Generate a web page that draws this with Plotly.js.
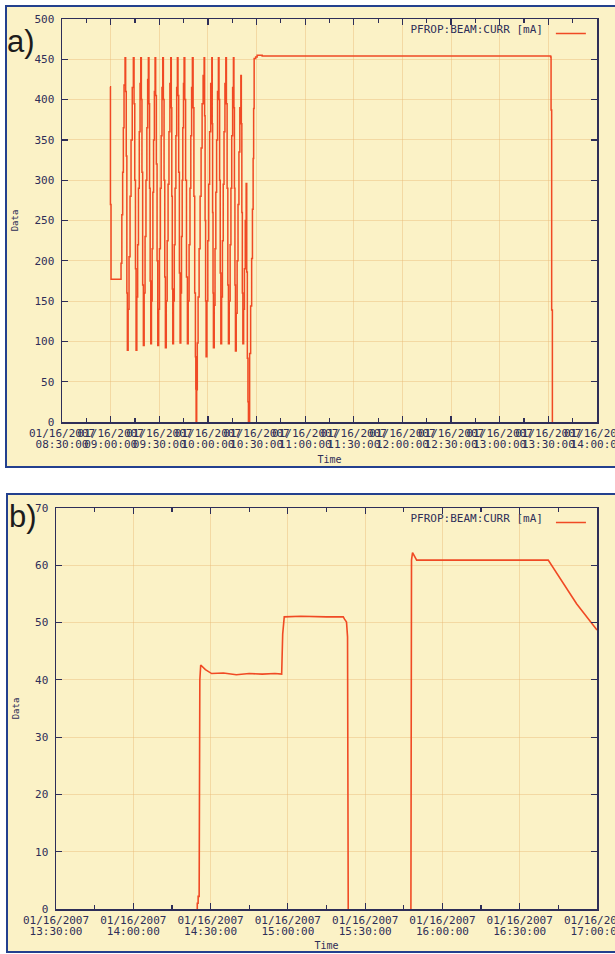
<!DOCTYPE html>
<html><head><meta charset="utf-8">
<script src="https://cdn.plot.ly/plotly-3.0.1.min.js"></script>
<style>
html,body{margin:0;padding:0;background:#ffffff;width:615px;height:954px;overflow:hidden;}
.panel{position:absolute;border:2px solid #23408e;border-right:none;background:#fbf2c6;}
#pa{left:5px;top:5px;width:608px;height:459px;}
#pb{left:6px;top:493px;width:607px;height:456px;}
</style></head><body>
<div id="pa" class="panel"></div>
<div id="pb" class="panel"></div>
<script>
// ---------- Panel a) : PFROP:BEAM:CURR [mA], 01/16/2007 08:30 - 14:00 ----------
// time of each sample, in minutes after 01/16/2007 08:30:00
const timeA_minAfter0830 = [
 29.63, 29.88, 30.25, 36.42, 36.91, 37.41, 37.84, 38.27, 38.89,
 39.26, 39.63, 40.00, 40.31,
 40.80, 41.36, 41.98, 42.59, 43.33, 44.01,
 44.45, 44.88, 45.31, 45.68,
 46.17, 46.67, 47.16, 47.66, 48.15, 48.58,
 48.95, 49.32, 49.75, 50.19,
 50.68, 51.24, 51.79, 52.35, 52.84, 53.27,
 53.64, 54.01, 54.38, 54.75,
 55.19, 55.62, 56.05, 56.48, 56.98, 57.41,
 57.78, 58.21, 58.64, 59.08,
 59.57, 60.13, 60.68, 61.17, 61.67, 62.16,
 62.53, 62.96, 63.40, 63.77,
 64.32, 64.88, 65.43, 65.99, 66.54, 67.10,
 67.41, 67.72, 68.03, 68.33,
 68.77, 69.26, 69.75, 70.25, 70.74, 71.17,
 71.55, 71.98, 72.41, 72.84,
 73.27, 73.71, 74.14, 74.51, 74.94, 75.31,
 75.74, 76.24, 76.79, 77.35,
 77.84, 78.40, 78.95, 79.45, 79.94, 80.43,
 80.87, 81.36, 81.85, 82.29, 82.53, 82.72,
 83.09, 83.46, 83.95, 84.57, 85.19, 85.80, 86.42, 87.04, 87.66,
 87.97, 88.27, 88.58, 88.89,
 89.39, 89.94, 90.50, 91.05, 91.73, 92.41,
 92.66, 92.90, 93.15, 93.40,
 93.89, 94.39, 94.88, 95.37, 95.93, 96.48,
 96.85, 97.22, 97.60, 97.97,
 98.46, 98.95, 99.45, 99.94, 100.50, 101.05,
 101.42, 101.85, 102.29, 102.66,
 103.15, 103.71, 104.20, 104.69, 105.25, 105.74,
 106.05, 106.36, 106.67, 106.98,
 107.47, 108.03, 108.58, 109.14, 109.69, 110.31,
 110.62, 110.93, 111.24, 111.55,
 112.04, 112.53, 113.03, 113.58,
 113.95, 114.32, 114.69, 115.00,
 115.74, 116.36, 116.98, 117.47, 117.90, 118.21, 118.52, 119.45, 120.37, 123.46,
 301.43, 301.67, 302.04, 302.48
];
const currentA_mA = [
 416, 270, 177, 197, 257, 310, 365, 418, 452,
 410, 330, 160, 89,
 140, 205, 280, 350, 415, 452,
 395, 300, 190, 89,
 155, 220, 290, 360, 420, 452,
 400, 310, 170, 95,
 160, 230, 300, 365, 425, 452,
 395, 290, 175, 97,
 150, 215, 285, 350, 410, 452,
 405, 320, 200, 95,
 140, 215, 290, 355, 415, 452,
 400, 300, 180, 92,
 150, 225, 295, 360, 420, 452,
 390, 280, 165, 97,
 150, 220, 290, 355, 415, 452,
 405, 310, 185, 98,
 160, 230, 300, 365, 420, 452,
 400, 300, 180, 97,
 150, 220, 290, 355, 415, 452,
 390, 280, 160, 81, 41, 0,
 40, 98, 155, 215, 280, 340, 395, 430, 452,
 380, 250, 150, 81,
 150, 225, 295, 360, 420, 452,
 370, 260, 160, 92,
 145, 215, 285, 350, 410, 452,
 400, 300, 185, 97,
 155, 225, 295, 360, 420, 452,
 395, 290, 170, 97,
 150, 220, 290, 355, 415, 452,
 390, 290, 170, 88,
 135, 200, 270, 335, 390, 430,
 370, 260, 160, 97,
 140, 190, 250, 296,
 186, 79, 25, 0,
 85, 144, 203, 264, 327, 389, 451, 453, 455, 454,
 453, 387, 139, 0
];
const rangeA = ['08:30:00', '14:00:00'];
const yTicksA = [0, 50, 100, 150, 200, 250, 300, 350, 400, 450, 500];

// ---------- Panel b) : 01/16/2007 13:30 - 17:00 ----------
// (null = stretch where the current sits on the 0 axis line)
const timeB = ['14:24:50','14:24:51','14:25:10','14:25:11','14:25:34','14:25:35','14:25:40','14:25:50','14:26:10',
 '14:28:00','14:30:25','14:35:00','14:40:00','14:45:00','14:50:00','14:55:00','14:57:36','14:57:40','14:58:00',
 '14:58:36','15:05:00','15:15:00','15:21:30','15:22:00','15:22:46','15:23:10','15:23:26','15:35:00','15:47:46','15:47:48',
 '15:47:55','15:47:57','15:48:00','15:48:24','15:50:00','16:41:04','16:52:04','17:00:00'];
const currentB_mA = [0, 1, 1, 2.2, 2.2, 7.3, 39.5, 40, 42.6,
 41.8, 41.1, 41.2, 40.9, 41.1, 41.0, 41.1, 41.0, 44.0, 48.0,
 51.0, 51.1, 51.0, 51.0, 50.6, 50.1, 47.5, 0, null, 0, 13.2,
 13.2, 37, 60.9, 62.2, 60.9, 60.9, 53.3, 48.7];
const rangeB = ['13:30:00', '17:00:00'];
const yTicksB = [0, 10, 20, 30, 40, 50, 60, 70];

const DAY = '2007-01-16';
const seriesName = 'PFROP:BEAM:CURR [mA]';

function pad(n){ return String(n).padStart(2,'0'); }
function fromMinutes(base, m){
  const [h, mi] = base.split(':').map(Number);
  const ms = Date.UTC(2007, 0, 16, h, mi) + Math.round(m * 60000);
  const d = new Date(ms);
  return DAY + ' ' + pad(d.getUTCHours()) + ':' + pad(d.getUTCMinutes()) + ':' + pad(d.getUTCSeconds()) + '.' + String(d.getUTCMilliseconds()).padStart(3,'0');
}
const xA = timeA_minAfter0830.map(m => fromMinutes('08:30', m));
const xB = timeB.map(t => DAY + ' ' + t);

const MONO = 'DejaVu Sans Mono, monospace';
const INK = '#2e2e58';
const LINE = '#f04a24';
const GRID = 'rgba(232,186,120,0.45)';
const BG = '#fbf2c6';

// bottom axis: date line of the tick labels
function xAxis(range){
  return {
    type: 'date', range: range.map(t => DAY + ' ' + t),
    tick0: DAY + ' ' + range[0], dtick: 30*60*1000,
    tickformat: '%m/%d/%Y', tickangle: 0, ticklabeloverflow: 'allow',
    ticks: 'inside', ticklen: 6, tickwidth: 1.2, tickcolor: INK,
    minor: {dtick: 15*60*1000, ticks: 'inside', ticklen: 4, tickcolor: INK, showgrid: false},
    showline: true, linecolor: INK, linewidth: 1.5, mirror: 'ticks',
    showgrid: true, gridcolor: GRID, gridwidth: 1,
    tickfont: {family: MONO, size: 11, color: INK},
    zeroline: false, fixedrange: true
  };
}
// overlaid axis: time-of-day line of the tick labels + axis title
function xAxisTime(range){
  return {
    type: 'date', range: range.map(t => DAY + ' ' + t), overlaying: 'x', anchor: 'y', side: 'bottom',
    tick0: DAY + ' ' + range[0], dtick: 30*60*1000,
    tickformat: '%H:%M:%S', tickangle: 0, ticklabeloverflow: 'allow',
    ticks: '', showline: false, showgrid: false, ticklabelstandoff: 14,
    tickfont: {family: MONO, size: 11, color: INK},
    title: {text: 'Time', font: {family: MONO, size: 10, color: INK}, standoff: 5},
    zeroline: false, fixedrange: true
  };
}
function yAxis(ticks){
  return {
    range: [ticks[0], ticks[ticks.length-1]], tickvals: ticks,
    ticks: 'inside', ticklen: 6, tickwidth: 1.2, tickcolor: INK,
    showline: true, linecolor: INK, linewidth: 1.5, mirror: 'ticks',
    showgrid: true, gridcolor: GRID, gridwidth: 1, ticklabelstandoff: 4,
    tickfont: {family: MONO, size: 11, color: INK},
    title: {text: 'Data', font: {family: MONO, size: 9, color: INK}, standoff: 14},
    zeroline: false, fixedrange: true
  };
}
function legend(){
  return {
    x: 1.012, xanchor: 'right', y: 1.0, yanchor: 'top',
    bgcolor: 'rgba(0,0,0,0)', borderwidth: 0,
    title: {text: seriesName, side: 'left', font: {family: MONO, size: 11, color: INK}},
    font: {family: MONO, size: 11, color: INK}
  };
}
function panelLabel(txt, x, y){
  return [{text: txt, xref: 'paper', yref: 'paper', x: x, y: y,
    xanchor: 'left', yanchor: 'middle', showarrow: false,
    font: {family: 'Liberation Sans, Arial, sans-serif', size: 31, color: '#1c1c1c'}}];
}

const layoutA = {
  width: 608, height: 459,
  margin: {l: 55, r: 18, t: 12, b: 44},
  paper_bgcolor: BG, plot_bgcolor: BG,
  xaxis: xAxis(rangeA), xaxis2: xAxisTime(rangeA), yaxis: yAxis(yTicksA),
  showlegend: true, legend: legend(),
  annotations: panelLabel('a)', -0.106, 0.945)
};
const layoutB = {
  width: 607, height: 456,
  margin: {l: 48, r: 18, t: 13, b: 42},
  paper_bgcolor: BG, plot_bgcolor: BG,
  xaxis: xAxis(rangeB), xaxis2: xAxisTime(rangeB), yaxis: yAxis(yTicksB),
  showlegend: true, legend: legend(),
  annotations: panelLabel('b)', -0.09, 0.98)
};

// helper trace that only registers the overlaid time-of-day axis (draws nothing)
function axisHelper(range){
  return {x: [DAY + ' ' + range[0]], y: [0], xaxis: 'x2', yaxis: 'y', type: 'scatter',
    mode: 'none', showlegend: false, hoverinfo: 'skip'};
}

const cfg = {displayModeBar: false, staticPlot: true};
Plotly.newPlot('pa', [{x: xA, y: currentA_mA, type: 'scatter', mode: 'lines', name: ' ',
  line: {color: LINE, width: 1.5, shape: 'hv'}}, axisHelper(rangeA)], layoutA, cfg);
Plotly.newPlot('pb', [{x: xB, y: currentB_mA, type: 'scatter', mode: 'lines', name: ' ',
  line: {color: LINE, width: 1.6}}, axisHelper(rangeB)], layoutB, cfg);
</script>
</body></html>
